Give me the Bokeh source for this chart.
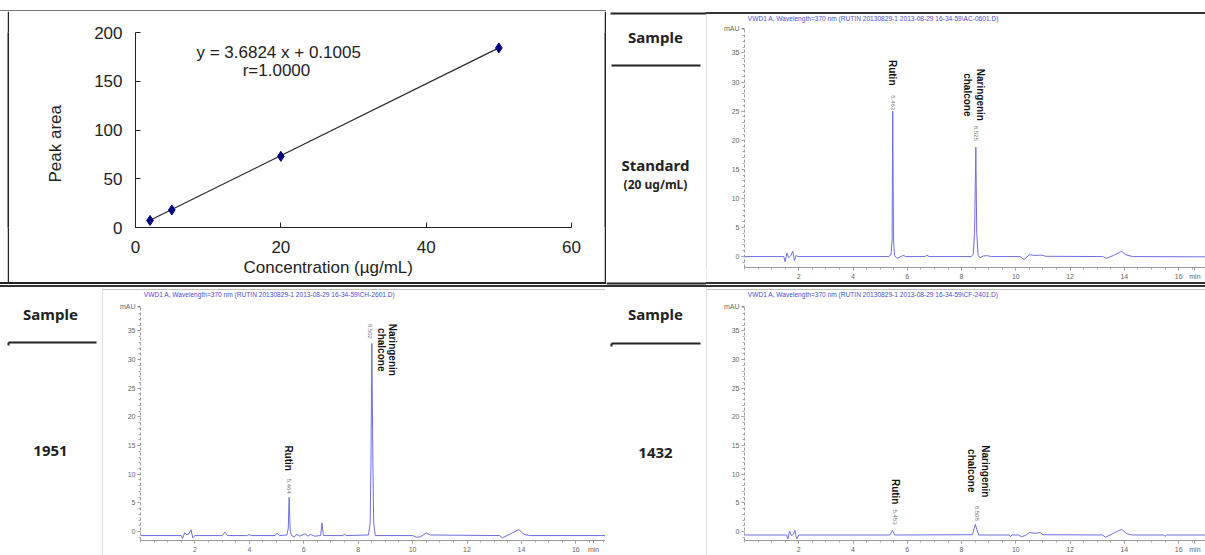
import math
from bokeh.plotting import figure
from bokeh.layouts import row, column
from bokeh.models import Range1d, FixedTicker, Div, Spacer, Title
from bokeh.core.properties import value
from bokeh.embed import file_html
from bokeh.resources import INLINE
from bokeh.core.validation import silence
from bokeh.core.validation.warnings import MISSING_RENDERERS

silence(MISSING_RENDERERS, True)

# ---------------- data ----------------
cal_conc = [2, 5, 20, 50]
cal_area = [7.2, 18.0, 73.0, 184.2]
fit_conc = [2, 50]
fit_area = [7.47, 184.22]
cal_x_ticks = [0, 20, 40, 60]
cal_y_ticks = [0, 50, 100, 150, 200]
cal_equation = "y = 3.6824 x + 0.1005"
cal_r = "r=1.0000"

chrom_x_ticks = [2, 4, 6, 8, 10, 12, 14, 16]
chrom_y_ticks = [0, 5, 10, 15, 20, 25, 30, 35]

std_title = "VWD1 A, Wavelength=370 nm (RUTIN 20130829-1 2013-08-29 16-34-59\\AC-0601.D)"
std_time = [0.0, 1.45, 1.5, 1.56, 1.63, 1.7, 1.78, 1.84, 1.9, 1.96, 5.32, 5.4, 5.44, 5.463,
            5.49, 5.53, 5.62, 5.72, 5.85, 5.95, 6.65, 6.72, 6.8, 8.36, 8.43, 8.48, 8.525, 8.56,
            8.61, 8.68, 8.8, 8.95, 9.1, 10.15, 10.3, 10.5, 10.7, 10.95, 11.1, 13.2, 13.35, 13.6,
            13.9, 14.05, 14.3, 17.0]
std_mau = [0.0, 0.0, -0.9, 0.6, -0.2, 0.1, 0.9, -0.7, 0.2, 0.0, 0.0, 0.3, 3.0, 25.0,
           3.0, 0.2, -0.3, -0.1, 0.2, 0.0, 0.0, 0.25, 0.0, 0.0, 0.4, 4.0, 18.8, 4.0,
           0.2, -0.2, 0.1, 0.15, 0.0, 0.0, -0.5, 0.3, 0.2, 0.25, 0.05, 0.0, -0.3, 0.2,
           0.9, 0.3, 0.0, -0.05]
std_rt = [5.463, 8.525]

s1951_title = "VWD1 A, Wavelength=370 nm (RUTIN 20130829-1 2013-08-29 16-34-59\\CH-2601.D)"
s1951_time = [0.0, 1.5, 1.55, 1.62, 1.7, 1.78, 1.86, 1.92, 2.0, 3.0, 3.1, 3.2, 3.9, 4.0, 4.1,
              4.95, 5.02, 5.1, 5.38, 5.43, 5.464, 5.5, 5.55, 5.65, 5.75, 5.85, 6.05, 6.15, 6.25,
              6.4, 6.62, 6.67, 6.72, 7.45, 7.5, 7.55, 8.38, 8.44, 8.47, 8.502, 8.54, 8.57, 8.63,
              10.0, 10.15, 10.3, 10.5, 10.65, 13.2, 13.3, 13.6, 13.9, 14.1, 14.3, 17.1]
s1951_mau = [-0.7, -0.7, -1.2, -0.2, -0.6, -0.4, 0.3, -1.1, -0.7, -0.7, -0.1, -0.7, -0.7, -0.55, -0.7,
             -0.7, -0.3, -0.7, -0.6, 0.5, 6.0, 0.3, -0.7, -0.9, -0.5, -0.8, -0.4, -0.8, -0.5,
             -0.8, -0.7, 1.5, -0.7, -0.7, -0.4, -0.7, -0.6, 1.5, 12.0, 32.8, 12.0, 1.5, -0.7,
             -0.7, -1.0, -0.9, -0.25, -0.6, -0.7, -1.1, -0.4, 0.35, -0.5, -0.7, -0.7]
s1951_rt = [5.464, 8.502]

s1432_title = "VWD1 A, Wavelength=370 nm (RUTIN 20130829-1 2013-08-29 16-34-59\\CF-2401.D)"
s1432_time = [0.0, 1.55, 1.6, 1.66, 1.73, 1.8, 1.86, 1.92, 2.0, 5.36, 5.45, 5.54, 5.7, 8.4, 8.46,
              8.508, 8.56, 8.63, 9.75, 9.8, 9.85, 10.1, 10.2, 10.35, 10.5, 10.7, 10.9, 11.0, 13.2,
              13.3, 13.6, 13.9, 14.1, 14.3, 15.45, 15.5, 15.55, 17.0]
s1432_mau = [-0.6, -0.6, -1.3, 0.1, -0.7, -0.5, 0.2, -1.3, -0.6, -0.6, 0.2, -0.6, -0.6, -0.55, 0.5,
             1.25, 0.4, -0.6, -0.6, -0.9, -0.6, -0.6, -0.9, -0.7, -0.15, -0.3, -0.2, -0.55, -0.6,
             -1.0, -0.3, 0.4, -0.4, -0.6, -0.6, -0.85, -0.6, -0.6]
s1432_rt = [5.453, 8.508]

peak_names = ["Rutin", "Naringenin", "chalcone"]

TRACE = "#6e6ee0"
SANS = "Liberation Sans"
DECO_FONT = "Noto Sans"


def vbar(w, h, color):
    return figure(width=w, height=h, min_border=0, toolbar_location=None, output_backend="svg",
                  x_axis_type=None, y_axis_type=None, outline_line_color=None,
                  background_fill_color=color, border_fill_color=color)


def hline(w, h, color):
    return Div(text="", width=w, height=h, margin=0, styles={"background-color": color})


def gap(w, h):
    return Spacer(width=w, height=h)


def deco(w, h):
    return figure(width=w, height=h, min_border=0, toolbar_location=None, output_backend="svg",
                  x_range=Range1d(0, w), y_range=Range1d(h, 0),
                  x_axis_type=None, y_axis_type=None, outline_line_color=None,
                  background_fill_color="white", border_fill_color="white")


def deco_text(f, x, y, txt, size="15px"):
    f.text(x=[x], y=[y], text=[txt], text_font=value(DECO_FONT), text_font_style="bold",
           text_font_size=size, text_align="center", text_baseline="middle", text_color="#222222")


# ---------------- calibration curve ----------------
cal = figure(width=595, height=271, x_range=Range1d(0, 60), y_range=Range1d(0, 200),
             min_border_left=126, min_border_right=33, min_border_top=21, min_border_bottom=55,
             toolbar_location=None, output_backend="svg", outline_line_color=None,
             background_fill_color="white", border_fill_color="white")
cal.grid.visible = False
cal.line(fit_conc, fit_area, line_color="#2a2a2a", line_width=1.2)
cal.scatter(cal_conc, cal_area, marker="diamond", size=10, fill_color="#00007a", line_color="#00007a")
cal.xaxis[0].ticker = FixedTicker(ticks=cal_x_ticks)
cal.yaxis[0].ticker = FixedTicker(ticks=cal_y_ticks)
for ax in (cal.xaxis[0], cal.yaxis[0]):
    ax.axis_line_color = "#222222"
    ax.major_tick_line_color = "#222222"
    ax.major_tick_in = 5
    ax.major_tick_out = 0
    ax.minor_tick_line_color = None
    ax.major_label_text_font = SANS
    ax.major_label_text_font_size = "17px"
    ax.major_label_text_color = "#222222"
    ax.major_label_standoff = 13
cal.text(x=[19.7, 19.4], y=[179.5, 161], text=[cal_equation, cal_r], text_font=value(SANS),
         text_font_size="17px", text_align="center", text_baseline="middle", text_color="#222222")


def side_title(text, align_offset, standoff):
    return Title(text=text, align="left", offset=align_offset, standoff=standoff,
                 text_font=SANS, text_font_size="17px", text_font_style="normal",
                 text_color="#222222")


cal.add_layout(side_title("Peak area", 45, 54), "left")
cal.add_layout(side_title("Concentration (µg/mL)", 108, 0), "below")


# ---------------- chromatograms ----------------
def chrom_panel(w, h, x_end, y_lo, y_hi, axis_top, mbb, times, mau, title, title_y, min_x,
                rts, rt_xy, name_xy):
    p = figure(width=w, height=h, x_range=Range1d(0, x_end), y_range=Range1d(y_lo, y_hi),
               min_border_left=37, min_border_right=0, min_border_top=0, min_border_bottom=mbb,
               toolbar_location=None, output_backend="svg", outline_line_color=None,
               background_fill_color="white", border_fill_color="white")
    p.grid.visible = False
    p.line(times, mau, line_color=TRACE, line_width=1)
    xa, ya = p.xaxis[0], p.yaxis[0]
    xa.ticker = FixedTicker(ticks=chrom_x_ticks + [min_x], minor_ticks=[i * 0.5 for i in range(0, 36)])
    xa.major_label_overrides = {min_x: "min"}
    ya.ticker = FixedTicker(ticks=chrom_y_ticks + [axis_top], minor_ticks=list(range(-2, 40)))
    ya.major_label_overrides = {axis_top: "mAU"}
    ya.bounds = (y_lo, axis_top + 0.01)
    for ax in (xa, ya):
        ax.axis_line_color = "#9a9a9a"
        ax.major_tick_line_color = "#8a8a8a"
        ax.minor_tick_line_color = "#a8a8a8"
        ax.major_tick_in = 0
        ax.major_tick_out = 3
        ax.minor_tick_in = 0
        ax.minor_tick_out = 2
        ax.major_label_text_font = SANS
        ax.major_label_text_font_size = "7px"
        ax.major_label_text_color = "#666666"
        ax.major_label_standoff = 2
    ya.axis_line_dash = "3 2"
    p.text(x=[0.12], y=[title_y], text=[title], text_font=value(SANS), text_font_size="6.6px",
           text_color="#4d4dd6", text_align="left", text_baseline="middle")
    p.text(x=[xy[0] for xy in rt_xy], y=[xy[1] for xy in rt_xy], text=[f"{v:.3f}" for v in rts],
           angle=-math.pi / 2, text_font=value(SANS), text_font_size="6px", text_color="#777777",
           text_align="center", text_baseline="middle")
    p.text(x=[xy[0] for xy in name_xy], y=[xy[1] for xy in name_xy], text=peak_names,
           angle=-math.pi / 2, text_font=value(SANS), text_font_style="bold", text_font_size="10px",
           text_color="#111111", text_align="center", text_baseline="middle")
    return p


chromC = chrom_panel(498, 268, 16.99, -1.88, 41.61, 39.2, 14, std_time, std_mau, std_title, 41.0, 16.6,
                     std_rt, [(5.463, 26.45), (8.52, 21.2)],
                     [(5.463, 31.6), (8.71, 27.8), (8.23, 27.8)])
chromE = chrom_panel(502, 265, 17.09, -1.56, 42.04, 39.27, 13, s1951_time, s1951_mau, s1951_title, 41.26, 16.65,
                     s1951_rt, [(5.46, 7.9), (8.42, 34.9)],
                     [(5.44, 12.8), (9.27, 31.7), (8.85, 31.7)])
chromG = chrom_panel(498, 265, 16.99, -1.56, 42.04, 39.27, 13, s1432_time, s1432_mau, s1432_title, 41.26, 16.6,
                     s1432_rt, [(5.54, 2.54), (8.56, 3.2)],
                     [(5.55, 6.95), (8.87, 10.5), (8.37, 10.6)])

# ---------------- label columns ----------------
B = deco(100, 285)
B.segment(x0=[4, 5, 0], y0=[13, 65, 283], x1=[100, 94, 100], y1=[13, 65, 283],
          line_color="#222222", line_width=2)
deco_text(B, 49, 36, "Sample")
deco_text(B, 49, 164, "Standard")
deco_text(B, 49, 184, "(20 ug/mL)", "12px")

D = deco(102, 268)
D.segment(x0=[8, 8], y0=[55, 55], x1=[96, 8], y1=[55, 58], line_color="#222222", line_width=2)
deco_text(D, 50, 26, "Sample")
deco_text(D, 50, 163, "1951")

F = deco(101, 268)
F.segment(x0=[6, 6], y0=[56, 56], x1=[95, 6], y1=[56, 59], line_color="#222222", line_width=2)
deco_text(F, 50, 26, "Sample")
deco_text(F, 50, 165, "1432")

# ---------------- layout ----------------
A = column(gap(606, 10), hline(606, 1, "#777777"),
           row(gap(7, 271), vbar(2, 271, "#222222"), cal, vbar(2, 271, "#222222")),
           hline(606, 2, "#222222"), gap(606, 1))
C = column(gap(499, 12), hline(499, 2, "#333333"),
           row(vbar(1, 268, "#c0c0c0"), chromC),
           hline(499, 2, "#333333"), gap(499, 1))
E = row(vbar(1, 268, "#c0c0c0"), column(gap(502, 2), hline(502, 1, "#c0c0c0"), chromE))
G = row(vbar(1, 268, "#c0c0c0"), column(gap(498, 2), hline(498, 1, "#c0c0c0"), chromG))

top = row(A, B, C)
bottom = column(hline(1205, 2, "#333333"), row(D, E, F, G))
page = column(top, bottom)

open("out.html", "w").write(file_html(page, INLINE))
